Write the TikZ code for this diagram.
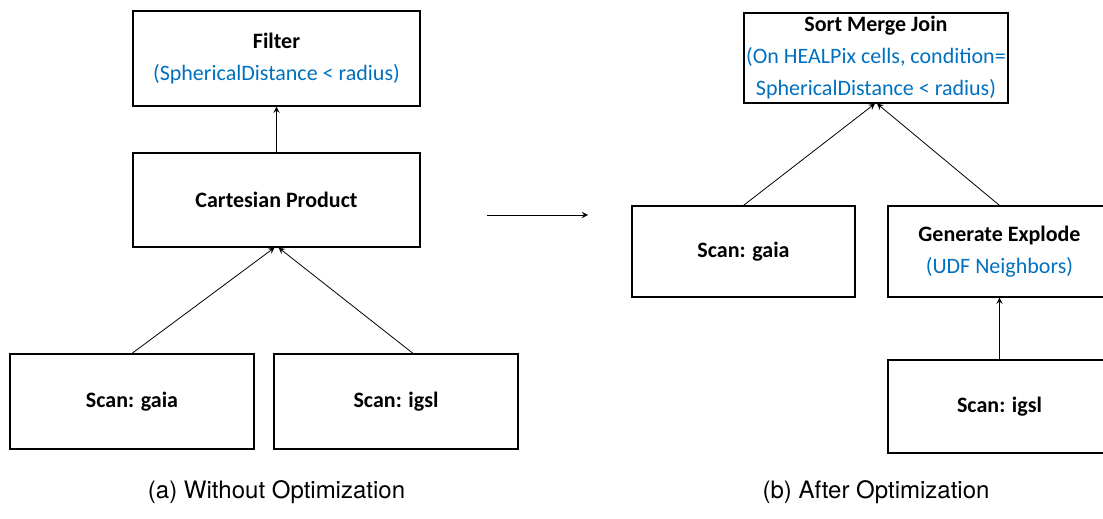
\documentclass[tikz,border=0pt]{standalone}
\usepackage{fontspec}
\setmainfont{Carlito}
\newfontfamily\capfont{TeX Gyre Heros}
\usetikzlibrary{positioning}
\definecolor{condblue}{RGB}{0,112,192}
\tikzset{
  opbox/.style={draw, rectangle, thick, line width=0.6pt, align=center, inner sep=1pt,
    font=\fontsize{11}{16}\selectfont\bfseries},
  cond/.style={text=condblue, font=\fontsize{11}{16}\selectfont\mdseries}
}
\newcommand{\cnd}[1]{{\color{condblue}\mdseries #1}}

\begin{document}
\begin{tikzpicture}[x=0.5pt, y=-0.5pt]
				\useasboundingbox (0,0) rectangle (1103,519);
				% without optimization
				\node[opbox, minimum width=143.5pt, minimum height=47.5pt] (filter)at(276.5, 58.5) {Filter\\\cnd{(SphericalDistance < radius)}};
				\node[opbox, minimum width=143.5pt, minimum height=47pt] (cart)at(276.5, 200) {Cartesian Product};
				\node[opbox, minimum width=122pt, minimum height=47.5pt] (gaiaA)at(132, 401.5) {Scan: gaia};
				\node[opbox, minimum width=122pt, minimum height=47.5pt] (igslA)at(396, 401.5) {Scan: igsl};
				\draw[->, >=stealth] (cart) -- (filter);
				\draw[->, >=stealth] (gaiaA.north) -- ([xshift=-1pt]cart.south);
				\draw[->, >=stealth] ([xshift=8.5pt]igslA.north) -- ([xshift=1pt]cart.south);
				% rewrite
				\coordinate (from)at(487, 215);
				\coordinate (to)at(588, 215);
				\draw[->, >=stealth] (from) -- (to);
				% after optimization
				\node[opbox, minimum width=132pt, minimum height=45pt] (smj)at(876, 58) {Sort Merge Join\\\cnd{(On HEALPix cells, condition=}\\\cnd{SphericalDistance < radius)}};
				\node[opbox, minimum width=111.5pt, minimum height=45.5pt] (gaiaB)at(743.5, 251.5) {Scan: gaia};
				\node[opbox, minimum width=111.5pt, minimum height=45.5pt] (expl)at(999.5, 251.5) {Generate Explode\\\cnd{(UDF Neighbors)}};
				\node[opbox, minimum width=111.5pt, minimum height=46.5pt] (igslB)at(999.5, 406.5) {Scan: igsl};
				\draw[->, >=stealth] (gaiaB.north) -- ([xshift=-0.5pt]smj.south);
				\draw[->, >=stealth] (expl.north) -- ([xshift=0.5pt]smj.south);
				\draw[->, >=stealth] (igslB) -- (expl);
				% captions
				\node[font=\capfont\fontsize{12}{14}\selectfont] (capA)at(276.5, 492) {(a) Without Optimization};
				\node[font=\capfont\fontsize{12}{14}\selectfont] (capB)at(876, 492) {(b) After Optimization};
			\end{tikzpicture}
\end{document}
